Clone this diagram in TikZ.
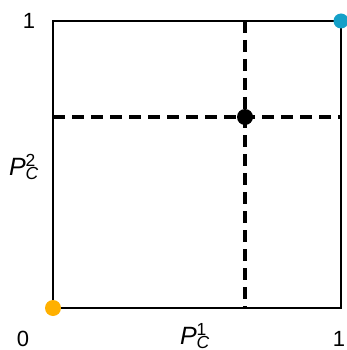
\documentclass[tikz,border=0pt]{standalone}
\usepackage{fontspec}
\setmainfont{Liberation Sans}
\usetikzlibrary{positioning}
\definecolor{corner0}{RGB}{255,176,0}
\definecolor{corner1}{RGB}{20,160,200}
\newcommand{\pvar}[2]{\textit{P}\rlap{\textsuperscript{#1}}\textsubscript{\textit{C}}}

\begin{document}
\begin{tikzpicture}[x=1pt,y=-1pt]
\tikzset{dot/.style={circle,fill,inner sep=0pt,minimum size=16pt},
  lbl/.style={font=\fontsize{22}{22}\selectfont,inner sep=0pt},
  axlbl/.style={font=\fontsize{25}{25}\selectfont,inner sep=0pt}}
\useasboundingbox (0,0) rectangle (346,350);
\coordinate (bl) at (53,308); \coordinate (tr) at (341,21);
\coordinate (xt) at (245,21); \coordinate (xb) at (245,308);
\coordinate (yl) at (53,117); \coordinate (yr) at (341,117);
\draw[line width=2pt] (bl) rectangle (tr);
\draw[line width=4pt,dash pattern=on 12pt off 7pt] (xt) -- (xb);
\draw[line width=4pt,dash pattern=on 12pt off 7pt] (yl) -- (yr);
\node[dot] (eq) at (245,117) {};
\node[dot,corner0] (p0) at (bl) {};
\node[dot,corner1,minimum size=15pt] (p1) at (tr) {};
\node[lbl] (one y) at (29,21) {1};
\node[lbl] (zero) at (23,339) {0};
\node[lbl] (one x) at (339,339) {1};
\node[axlbl] (px) at (195,336) {\pvar{1}{C}};
\node[axlbl] (py) at (24,167) {\pvar{2}{C}};
\end{tikzpicture}
\end{document}
